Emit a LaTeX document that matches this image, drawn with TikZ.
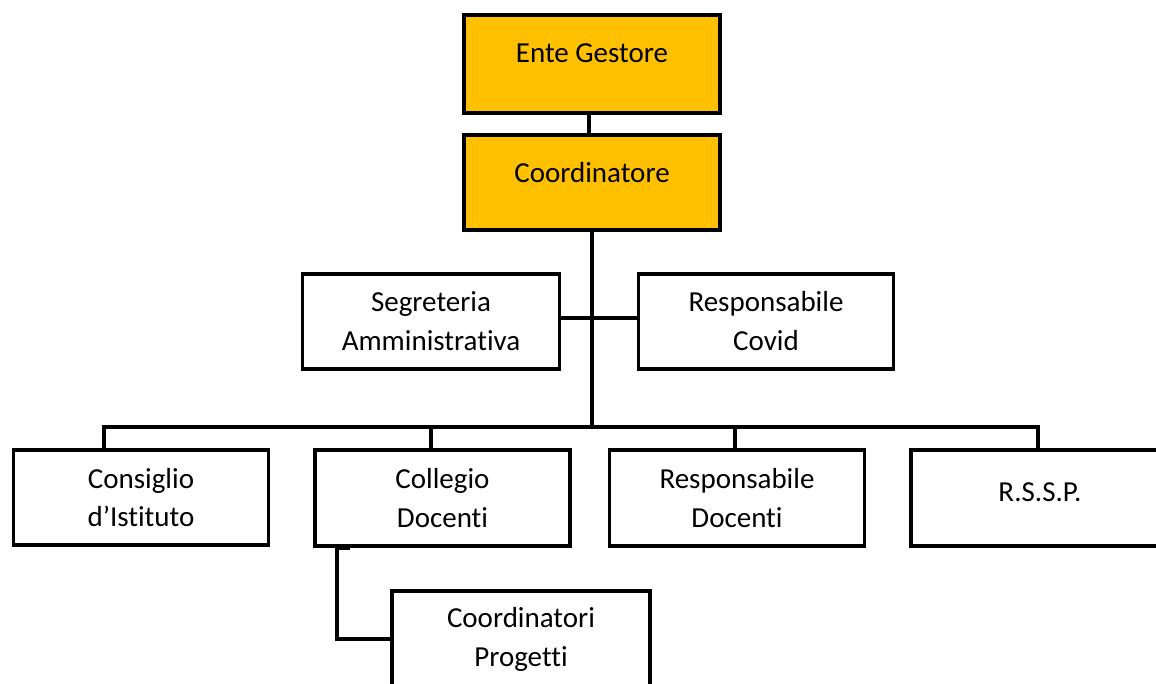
\documentclass[tikz,border=0pt]{standalone}
\usepackage{fontspec}
\setmainfont[Ligatures=NoCommon]{Carlito}
\definecolor{gold}{HTML}{FFC000}
\tikzset{
  orgbox/.style={draw=black, line width=3.8pt, fill=white, inner sep=0pt, align=center,
    minimum width=255pt, minimum height=96pt, font=\fontsize{29}{39}\selectfont},
  topbox/.style={orgbox, fill=gold},
  conn/.style={draw=black, line width=3.2pt}
}
\newcommand{\upby}[2]{\raisebox{#1}[\height][\depth]{#2}}
\begin{document}
\begin{tikzpicture}[x=1pt, y=-1pt]
\useasboundingbox (0,0) rectangle (1156,684);
\clip (0,0) rectangle (1156,684);
\fill[white] (0,0) rectangle (1156,684);

% boxes
\node[topbox, minimum width=256pt, minimum height=98pt] (eg) at (592,64) {\upby{11pt}{Ente Gestore}};
\node[topbox, minimum width=256pt, minimum height=95pt] (co) at (592,182.5) {\upby{10pt}{Coordinatore}};
\node[orgbox, minimum width=257pt, minimum height=95pt] (seg) at (431,321.5) {Segreteria\\Amministrativa};
\node[orgbox, minimum height=95pt] (cov) at (766,321.5) {Responsabile\\Covid};
\node[orgbox, minimum height=95pt] (cons) at (141,497.5) {\upby{-1pt}{Consiglio}\\d’Istituto};
\node[orgbox] (coll) at (442.5,498) {Collegio\\Docenti};
\node[orgbox] (rd) at (737,498) {Responsabile\\Docenti};
\node[orgbox, minimum width=258pt] (rssp) at (1040,498) {\upby{6pt}{R.S.S.P.}};
\node[orgbox, minimum width=258pt] (cp) at (521,639) {Coordinatori\\Progetti};

% bus coordinates
\coordinate (busL) at (104,427);
\coordinate (busR) at (1038,427);
\coordinate (d2) at (431,427);
\coordinate (d3) at (735,427);
\coordinate (cpj) at (337,548);
\coordinate (cps) at (350,548);

% connectors
\draw[conn] ([xshift=-3pt]eg.south) -- ([xshift=-3pt]co.north);
\draw[conn] (co.south) -- (co.south |- busL);
\draw[conn] ([yshift=3.5pt]seg.east) -- ([yshift=3.5pt]cov.west);
\draw[conn] (busL |- cons.north) -- (busL) -- (busR) -- (busR |- rssp.north);
\draw[conn] (d2) -- (d2 |- coll.north);
\draw[conn] (d3) -- (d3 |- rd.north);
\draw[conn] (cps) -- (cpj) |- (cp.west);
\end{tikzpicture}
\end{document}
